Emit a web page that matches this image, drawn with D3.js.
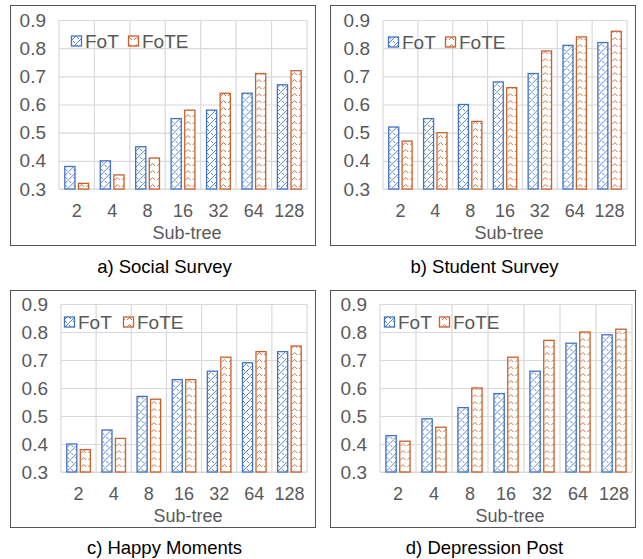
<!DOCTYPE html>
<html>
<head>
<meta charset="utf-8">
<script src="https://cdn.jsdelivr.net/npm/d3@7"></script>
<style>
    body { margin: 0; background: #fff; }
    text { font-family: Arial, "Liberation Sans", sans-serif; fill: #595959; }
</style>
</head>
<body>
<div id="chart"></div>
<script>
// chart data
const subTrees = ['2', '4', '8', '16', '32', '64', '128'];
const seriesNames = ['FoT', 'FoTE'];
const yTicks = [0.3, 0.4, 0.5, 0.6, 0.7, 0.8, 0.9];
const captions = ['a) Social Survey', 'b) Student Survey', 'c) Happy Moments', 'd) Depression Post'];

const socialFoT = [0.38, 0.40, 0.45, 0.55, 0.58, 0.64, 0.67];
const socialFoTE = [0.32, 0.35, 0.41, 0.58, 0.64, 0.71, 0.72];
const studentFoT = [0.52, 0.55, 0.60, 0.68, 0.71, 0.81, 0.82];
const studentFoTE = [0.47, 0.50, 0.54, 0.66, 0.79, 0.84, 0.86];
const happyFoT = [0.40, 0.45, 0.57, 0.63, 0.66, 0.69, 0.73];
const happyFoTE = [0.38, 0.42, 0.56, 0.63, 0.71, 0.73, 0.75];
const depressionFoT = [0.43, 0.49, 0.53, 0.58, 0.66, 0.76, 0.79];
const depressionFoTE = [0.41, 0.46, 0.60, 0.71, 0.77, 0.80, 0.81];

const panelValues = [
    [socialFoT, socialFoTE],
    [studentFoT, studentFoTE],
    [happyFoT, happyFoTE],
    [depressionFoT, depressionFoTE]
];

// layout of each panel (box + plot area), in page pixels
const layouts = [
    { box: [10, 5, 315, 245], plot: [59, 20, 307, 189], legend: [71, 128], legendY: 41, caption: 267 },
    { box: [330, 5, 635, 245], plot: [383, 20, 627, 189], legend: [388, 445], legendY: 42, caption: 267 },
    { box: [10, 290, 315, 527], plot: [61, 304, 307, 472], legend: [64, 123], legendY: 322, caption: 548 },
    { box: [330, 290, 635, 527], plot: [380, 304, 632, 472], legend: [384, 439], legendY: 322, caption: 548 }
];

const colors = ['#4472C4', '#C8602A'];

const svg = d3.select('#chart').append('svg')
    .attr('width', 643)
    .attr('height', 559);

// hatch patterns
const defs = svg.append('defs');

const p0 = defs.append('pattern')
    .attr('id', 'hatch-0')
    .attr('patternUnits', 'userSpaceOnUse')
    .attr('width', 8)
    .attr('height', 8);
p0.append('rect').attr('width', 8).attr('height', 8).attr('fill', '#fff');
p0.append('path')
    .attr('d', 'M0,8 L8,0 M-2,2 L2,-2 M6,10 L10,6 M1,1 L3,3 M5,5 L7,7')
    .attr('stroke', colors[0])
    .attr('stroke-width', 0.9)
    .attr('fill', 'none');

const p1 = defs.append('pattern')
    .attr('id', 'hatch-1')
    .attr('patternUnits', 'userSpaceOnUse')
    .attr('width', 7)
    .attr('height', 7);
p1.append('rect').attr('width', 7).attr('height', 7).attr('fill', '#fff');
p1.append('path')
    .attr('d', 'M1,5 L3.5,2.5 L6,5')
    .attr('stroke', colors[1])
    .attr('stroke-width', 0.9)
    .attr('fill', 'none');

layouts.forEach((lay, i) => {
    const g = svg.append('g').attr('class', 'panel panel-' + i);
    const [x0, y0, x1, y1] = lay.plot;

    // outer frame
    g.append('rect')
        .attr('x', lay.box[0] + 0.5)
        .attr('y', lay.box[1] + 0.5)
        .attr('width', lay.box[2] - lay.box[0])
        .attr('height', lay.box[3] - lay.box[1])
        .attr('fill', 'none')
        .attr('stroke', '#555')
        .attr('stroke-width', 1);

    const xScale = d3.scaleBand()
        .domain(subTrees)
        .range([x0, x1])
        .paddingInner(0.3)
        .paddingOuter(0.15);

    const xSub = d3.scaleBand()
        .domain(seriesNames)
        .range([0, xScale.bandwidth()])
        .paddingInner(0.18);

    const yScale = d3.scaleLinear()
        .domain([0.3, 0.9])
        .range([y1, y0]);

    // gridlines
    const yAxis = d3.axisLeft(yScale)
        .tickValues(yTicks)
        .tickFormat(d3.format('.1f'))
        .tickSize(-(x1 - x0))
        .tickPadding(13);

    g.append('g')
        .attr('class', 'axis y-axis')
        .attr('transform', `translate(${x0},0)`)
        .call(yAxis)
        .call(a => a.select('.domain').remove())
        .call(a => a.selectAll('line').attr('stroke', '#d9d9d9').attr('stroke-width', 1.2))
        .call(a => a.selectAll('text').attr('font-size', 19).style('fill', '#595959'));

    // vertical gridlines between categories
    const vLines = subTrees.map((d, k) => x0 + k * xScale.step()).concat([x1]);
    g.append('g')
        .selectAll('line')
        .data(vLines)
        .join('line')
        .attr('x1', d => d).attr('x2', d => d)
        .attr('y1', y0).attr('y2', y1)
        .attr('stroke', '#d9d9d9')
        .attr('stroke-width', 1.2);

    // x axis labels
    const xAxis = d3.axisBottom(xScale).tickSize(0).tickPadding(15);
    g.append('g')
        .attr('class', 'axis x-axis')
        .attr('transform', `translate(0,${y1})`)
        .call(xAxis)
        .call(a => a.select('.domain').remove())
        .call(a => a.selectAll('text').attr('font-size', 18).style('fill', '#595959'));

    // baseline
    g.append('line')
        .attr('x1', x0).attr('x2', x1)
        .attr('y1', y1).attr('y2', y1)
        .attr('stroke', '#d9d9d9')
        .attr('stroke-width', 1.2);

    // bars
    const rows = subTrees.map((s, k) => ({
        key: s,
        values: seriesNames.map((n, j) => ({ series: j, name: n, value: panelValues[i][j][k] }))
    }));

    g.append('g')
        .selectAll('g')
        .data(rows)
        .join('g')
        .attr('transform', d => `translate(${xScale(d.key)},0)`)
        .selectAll('rect')
        .data(d => d.values)
        .join('rect')
        .attr('x', d => xSub(d.name) + 0.5)
        .attr('y', d => yScale(d.value))
        .attr('width', xSub.bandwidth() - 1)
        .attr('height', d => yScale(0.3) - yScale(d.value))
        .attr('fill', d => `url(#hatch-${d.series})`)
        .attr('stroke', d => colors[d.series])
        .attr('stroke-width', 1.3);

    // axis title
    g.append('text')
        .attr('x', (x0 + x1) / 2 + 4)
        .attr('y', y1 + 44)
        .attr('dy', '0.35em')
        .attr('text-anchor', 'middle')
        .attr('font-size', 18)
        .text('Sub-tree');

    // legend
    seriesNames.forEach((n, j) => {
        const lx = lay.legend[j];
        g.append('rect')
            .attr('x', lx + 0.5)
            .attr('y', lay.legendY - 5)
            .attr('width', 10)
            .attr('height', 10)
            .attr('fill', `url(#hatch-${j})`)
            .attr('stroke', colors[j])
            .attr('stroke-width', 1.3);
        g.append('text')
            .attr('x', lx + 14)
            .attr('y', lay.legendY)
            .attr('dy', '0.35em')
            .attr('font-size', 19)
            .text(n);
    });

    // caption
    g.append('text')
        .attr('x', (lay.box[0] + lay.box[2]) / 2 + 2)
        .attr('y', lay.caption)
        .attr('dy', '0.35em')
        .attr('text-anchor', 'middle')
        .attr('font-size', 18.5)
        .style('fill', '#000')
        .text(captions[i]);
});
</script>
</body>
</html>
